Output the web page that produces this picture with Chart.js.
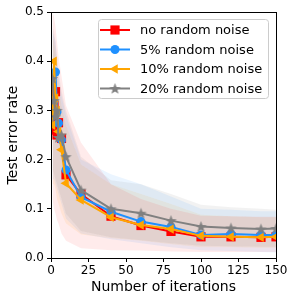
<!DOCTYPE html>
<html>
<head>
<meta charset="utf-8">
<script src="https://cdn.jsdelivr.net/npm/chart.js@4"></script>
<style>
  html, body { margin: 0; padding: 0; background: #fff; }
  #wrap { width: 292px; height: 302px; }
</style>
</head>
<body>
<div id="wrap"><canvas id="chart" width="292" height="302"></canvas></div>
<script>
const iterations = [1, 2, 3, 4, 5, 7, 10, 20, 40, 60, 80, 100, 120, 140, 150];
const labels = ['no random noise', '5% random noise', '10% random noise', '20% random noise'];

const noNoise  = [0.26, 0.31, 0.338, 0.25, 0.275, 0.243, 0.169, 0.13, 0.085, 0.066, 0.054, 0.043, 0.043, 0.042, 0.043];
const noise5   = [0.30, 0.32, 0.378, 0.297, 0.274, 0.24, 0.179, 0.124, 0.094, 0.074, 0.063, 0.047, 0.049, 0.047, 0.047];
const noise10  = [0.27, 0.40, 0.325, 0.30, 0.257, 0.22, 0.152, 0.118, 0.083, 0.067, 0.059, 0.045, 0.043, 0.042, 0.043];
const noise20  = [0.365, 0.32, 0.287, 0.30, 0.245, 0.25, 0.206, 0.138, 0.10, 0.091, 0.076, 0.064, 0.061, 0.059, 0.06];

// shaded ranges
const noNoiseHi = [0.50, 0.49, 0.47, 0.44, 0.41, 0.37, 0.31, 0.235, 0.15, 0.12, 0.10, 0.086, 0.085, 0.084, 0.084];
const noNoiseLo = [0.12, 0.10, 0.09, 0.077, 0.07, 0.05, 0.035, 0.02, 0.016, 0.015, 0.013, 0.012, 0.012, 0.012, 0.012];
const noise5Hi  = [0.46, 0.45, 0.44, 0.40, 0.37, 0.33, 0.29, 0.20, 0.17, 0.15, 0.125, 0.10, 0.098, 0.095, 0.095];
const noise5Lo  = [0.16, 0.16, 0.15, 0.14, 0.13, 0.11, 0.08, 0.05, 0.038, 0.03, 0.022, 0.016, 0.014, 0.012, 0.011];
const noise10Hi = [0.45, 0.44, 0.42, 0.38, 0.35, 0.31, 0.27, 0.19, 0.15, 0.13, 0.11, 0.088, 0.085, 0.083, 0.083];
const noise10Lo = [0.15, 0.15, 0.14, 0.12, 0.11, 0.09, 0.07, 0.048, 0.04, 0.035, 0.028, 0.022, 0.022, 0.021, 0.021];
const noise20Hi = [0.47, 0.46, 0.44, 0.41, 0.38, 0.34, 0.30, 0.206, 0.158, 0.15, 0.13, 0.108, 0.103, 0.10, 0.098];
const noise20Lo = [0.18, 0.17, 0.16, 0.15, 0.14, 0.12, 0.09, 0.055, 0.042, 0.036, 0.03, 0.025, 0.024, 0.023, 0.023];

const xTicks = [0, 25, 50, 75, 100, 125, 150];
const yTicks = [0, 0.1, 0.2, 0.3, 0.4, 0.5];

const FONT = 'DejaVu Sans';

// filled 5 point star like matplotlib '*'
function starImg(color) {
  let c = document.createElement('canvas')
  c.width = 13; c.height = 13
  let g = c.getContext('2d')
  g.fillStyle = color
  g.beginPath()
  for (let i = 0; i < 10; i++) {
    let r = i % 2 === 0 ? 6 : 2.5
    let a = -Math.PI / 2 + i * Math.PI / 5
    let x = 6.5 + r * Math.cos(a), y = 7 + r * Math.sin(a)
    i === 0 ? g.moveTo(x, y) : g.lineTo(x, y)
  }
  g.closePath()
  g.fill()
  return c
}
const star = starImg('#808080')

const pts = arr => arr.map((v, i) => ({x: iterations[i], y: v}))

const series = [
  {label: labels[0], data: noNoise, hi: noNoiseHi, lo: noNoiseLo, color: '#ff0000', band: 'rgba(255,0,0,0.08)', style: 'rect', radius: 6.5, rot: 0, order: 4},
  {label: labels[1], data: noise5, hi: noise5Hi, lo: noise5Lo, color: '#1e90ff', band: 'rgba(30,144,255,0.09)', style: 'circle', radius: 4.5, rot: 0, order: 3},
  {label: labels[2], data: noise10, hi: noise10Hi, lo: noise10Lo, color: '#ffa500', band: 'rgba(255,165,0,0.09)', style: 'triangle', radius: 5.5, rot: -90, order: 2},
  {label: labels[3], data: noise20, hi: noise20Hi, lo: noise20Lo, color: '#808080', band: 'rgba(128,128,128,0.1)', style: star, radius: 6, rot: 0, order: 1}
]

let datasets = []
series.forEach(s => {
  datasets.push({
    label: s.label + ' hi', data: pts(s.hi), borderWidth: 0, pointRadius: 0,
    backgroundColor: s.band, fill: '+1', order: 20
  })
  datasets.push({
    label: s.label + ' lo', data: pts(s.lo), borderWidth: 0, pointRadius: 0,
    backgroundColor: s.band, fill: false, order: 20
  })
})
series.forEach(s => {
  datasets.push({
    label: s.label, data: pts(s.data), borderColor: s.color, backgroundColor: s.color,
    borderWidth: 2, pointStyle: s.style, pointRadius: s.radius, pointRotation: s.rot,
    pointBorderWidth: 0, fill: false, order: s.order, tension: 0
  })
})

// axes frame + legend box drawn inside plot, matplotlib style
const framePlugin = {
  id: 'frame',
  afterDraw(chart) {
    let ctx = chart.ctx
    let a = chart.chartArea
    ctx.save()
    ctx.strokeStyle = '#000'
    ctx.lineWidth = 1
    ctx.strokeRect(a.left + 0.5, a.top + 0.5, a.right - a.left, a.bottom - a.top)

    // legend
    let bx = 98, by = 19, bw = 170, bh = 79
    ctx.fillStyle = 'rgba(255,255,255,0.8)'
    ctx.strokeStyle = '#cccccc'
    ctx.beginPath()
    ctx.roundRect(bx + 0.5, by + 0.5, bw, bh, 3)
    ctx.fill()
    ctx.stroke()
    let rows = [30, 49.5, 69, 88.5]
    series.forEach((s, i) => {
      let y = rows[i]
      ctx.strokeStyle = s.color
      ctx.lineWidth = 2
      ctx.beginPath()
      ctx.moveTo(100, y)
      ctx.lineTo(130, y)
      ctx.stroke()
      ctx.fillStyle = s.color
      Chart.helpers.drawPoint(ctx, {pointStyle: s.style, radius: s.radius, rotation: s.rot, borderWidth: 0}, 115, y)
      ctx.fillStyle = '#000'
      ctx.font = '13px "' + FONT + '"'
      ctx.textBaseline = 'middle'
      ctx.fillText(s.label, 140, y + 1)
    })
    ctx.restore()
  }
}

new Chart(document.getElementById('chart'), {
  type: 'line',
  data: {datasets: datasets},
  options: {
    responsive: false,
    animation: false,
    layout: {padding: {left: 0, right: 16, top: 12, bottom: 0}},
    plugins: {legend: {display: false}, tooltip: {enabled: false}},
    elements: {line: {borderJoinStyle: 'round'}},
    scales: {
      x: {
        type: 'linear', min: 0, max: 150,
        afterBuildTicks: s => { s.ticks = xTicks.map(v => ({value: v})) },
        afterFit: s => { s.height = 44 },
        grid: {display: true, drawOnChartArea: false, drawTicks: true, tickLength: 4, color: '#000'},
        border: {display: true, color: '#000'},
        ticks: {color: '#000', font: {family: FONT, size: 12}, padding: 2, maxRotation: 0},
        title: {display: true, text: 'Number of iterations', color: '#000', font: {family: FONT, size: 14}, padding: {top: 0, bottom: 6}}
      },
      y: {
        type: 'linear', min: 0, max: 0.5,
        afterBuildTicks: s => { s.ticks = yTicks.map(v => ({value: v})) },
        afterFit: s => { s.width = 51 },
        grid: {display: true, drawOnChartArea: false, drawTicks: true, tickLength: 4, color: '#000'},
        border: {display: true, color: '#000'},
        ticks: {color: '#000', font: {family: FONT, size: 12}, padding: 3, callback: v => v.toFixed(1)},
        title: {display: true, text: 'Test error rate', color: '#000', font: {family: FONT, size: 14}, padding: {top: 5, bottom: 0}}
      }
    }
  },
  plugins: [framePlugin]
});
</script>
</body>
</html>
